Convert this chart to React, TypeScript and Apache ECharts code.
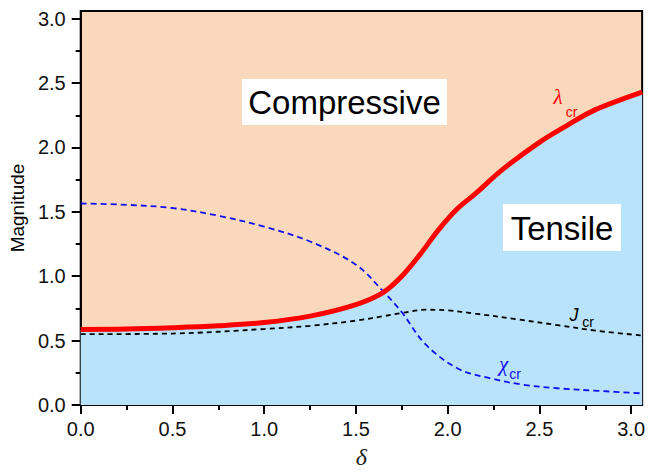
import React, { useEffect, useRef } from "react";
import * as echarts from "echarts";

const lambdaX = [0, 0.25, 0.5, 0.75, 1.0, 1.25, 1.5, 1.65, 1.75, 1.85, 1.95, 2.05, 2.15, 2.3, 2.5, 2.65, 2.8, 3.06];
const lambdaY = [0.587, 0.59, 0.6, 0.615, 0.64, 0.69, 0.78, 0.875, 1.0, 1.17, 1.36, 1.52, 1.64, 1.83, 2.04, 2.17, 2.29, 2.43];

const jX = [0, 0.5, 1.0, 1.25, 1.5, 1.65, 1.75, 1.88, 2.0, 2.15, 2.38, 2.6, 2.82, 3.06];
const jY = [0.55, 0.555, 0.59, 0.615, 0.655, 0.69, 0.715, 0.74, 0.735, 0.71, 0.665, 0.62, 0.575, 0.54];

const chiX = [0, 0.25, 0.5, 0.75, 1.0, 1.25, 1.5, 1.65, 1.75, 1.88, 2.06, 2.24, 2.4, 2.6, 2.82, 3.06];
const chiY = [1.565, 1.555, 1.53, 1.47, 1.385, 1.27, 1.09, 0.88, 0.72, 0.47, 0.28, 0.205, 0.16, 0.13, 0.11, 0.09];

const majorTicks = [0, 0.5, 1.0, 1.5, 2.0, 2.5, 3.0];
const minorTicks = [0.25, 0.75, 1.25, 1.75, 2.25, 2.75];

const AXIS_MAX = 3.06;
const PEACH = "#F9D8BC";
const SKY = "#B8E3FA";

const pairs = (xs: number[], ys: number[]) => xs.map((x, i) => [x, ys[i]]);

export default function App() {
  const ref = useRef<HTMLDivElement>(null);
  useEffect(() => {
    if (!ref.current) return;
    const chart = echarts.init(ref.current, null, { renderer: "svg" });
    const SANS = "Liberation Sans, Arial, sans-serif";
    const mainAxis = (isX: boolean) => ({
      type: "value",
      min: 0,
      max: AXIS_MAX,
      interval: 0.5,
      gridIndex: 0,
      splitLine: { show: false },
      axisLine: { show: true, onZero: false, lineStyle: { color: "#000", width: 2 } },
      axisTick: { show: true, inside: false, length: 9, customValues: majorTicks, lineStyle: { color: "#000", width: 2 } },
      axisLabel: {
        fontSize: 20,
        color: "#111",
        fontFamily: SANS,
        margin: isX ? 14 : 15,
        customValues: majorTicks,
        formatter: (v: number) => v.toFixed(1),
      },
      ...(isX
        ? {
            name: "δ",
            nameLocation: "middle",
            nameGap: 40,
            nameTextStyle: { fontSize: 24, fontStyle: "italic", fontFamily: "Liberation Serif, Times New Roman, serif", color: "#222" },
          }
        : {
            name: "Magnitude",
            nameLocation: "middle",
            nameGap: 49,
            nameTextStyle: { fontSize: 19, color: "#000", fontFamily: SANS },
          }),
    });
    const minorAxis = () => ({
      type: "value",
      min: 0,
      max: AXIS_MAX,
      interval: 0.25,
      gridIndex: 0,
      splitLine: { show: false },
      axisLine: { show: false, onZero: false },
      axisTick: { show: true, inside: false, length: 5, customValues: minorTicks, lineStyle: { color: "#000", width: 2 } },
      axisLabel: { show: false },
    });

    const txt = (text: string, x: number, y: number, size: number, color: string, opts: any = {}) => ({
      type: "text",
      x,
      y,
      z: 100,
      style: {
        text,
        fontSize: size,
        fill: color,
        fontFamily: opts.family || SANS,
        fontStyle: opts.italic ? "italic" : "normal",
        align: "center",
        verticalAlign: "middle",
      },
    });

    chart.setOption({
      animation: false,
      grid: {
        left: 79,
        right: 4,
        top: 11,
        bottom: 62.5,
        show: true,
        backgroundColor: PEACH,
        borderColor: "#000",
        borderWidth: 2,
      },
      xAxis: [{ ...mainAxis(true) }, { ...minorAxis(), position: "bottom" }],
      yAxis: [{ ...mainAxis(false) }, { ...minorAxis(), position: "left" }],
      series: [
        {
          type: "line",
          data: pairs(lambdaX, lambdaY),
          smooth: 0.35,
          showSymbol: false,
          lineStyle: { width: 0 },
          areaStyle: { color: SKY, opacity: 1, origin: "start" },
          z: 1,
        },
        {
          type: "line",
          data: pairs(jX, jY),
          smooth: 0.35,
          showSymbol: false,
          lineStyle: { color: "#000", width: 1.8, type: [5, 4] },
          z: 3,
        },
        {
          type: "line",
          data: pairs(chiX, chiY),
          smooth: 0.35,
          showSymbol: false,
          lineStyle: { color: "#1010F0", width: 1.8, type: [6, 4] },
          z: 3,
        },
        {
          type: "line",
          data: pairs(lambdaX, lambdaY),
          smooth: 0.35,
          showSymbol: false,
          lineStyle: { color: "#FF0000", width: 5 },
          z: 4,
        },
      ],
      graphic: [
        { type: "rect", shape: { x: 242, y: 79, width: 205, height: 46 }, style: { fill: "#fff" }, z: 99 },
        txt("Compressive", 344.5, 102.5, 33, "#000"),
        { type: "rect", shape: { x: 503, y: 204, width: 118, height: 47 }, style: { fill: "#fff" }, z: 99 },
        txt("Tensile", 562, 228, 33, "#000"),
        txt("λ", 558, 97, 21, "#FF0000", { italic: true, family: "Liberation Serif, serif" }),
        txt("cr", 571.5, 112, 14, "#FF0000"),
        txt("J", 574, 315, 18, "#000", { italic: true }),
        txt("cr", 588, 322, 14, "#000"),
        txt("χ", 503.5, 364, 21, "#1010F0", { italic: true, family: "Liberation Serif, serif" }),
        txt("cr", 515, 374, 14, "#1010F0"),
      ],
    });
    return () => chart.dispose();
  }, []);
  return <div ref={ref} style={{ position: "absolute", left: 0, top: 0, width: 648, height: 474 }} />;
}
